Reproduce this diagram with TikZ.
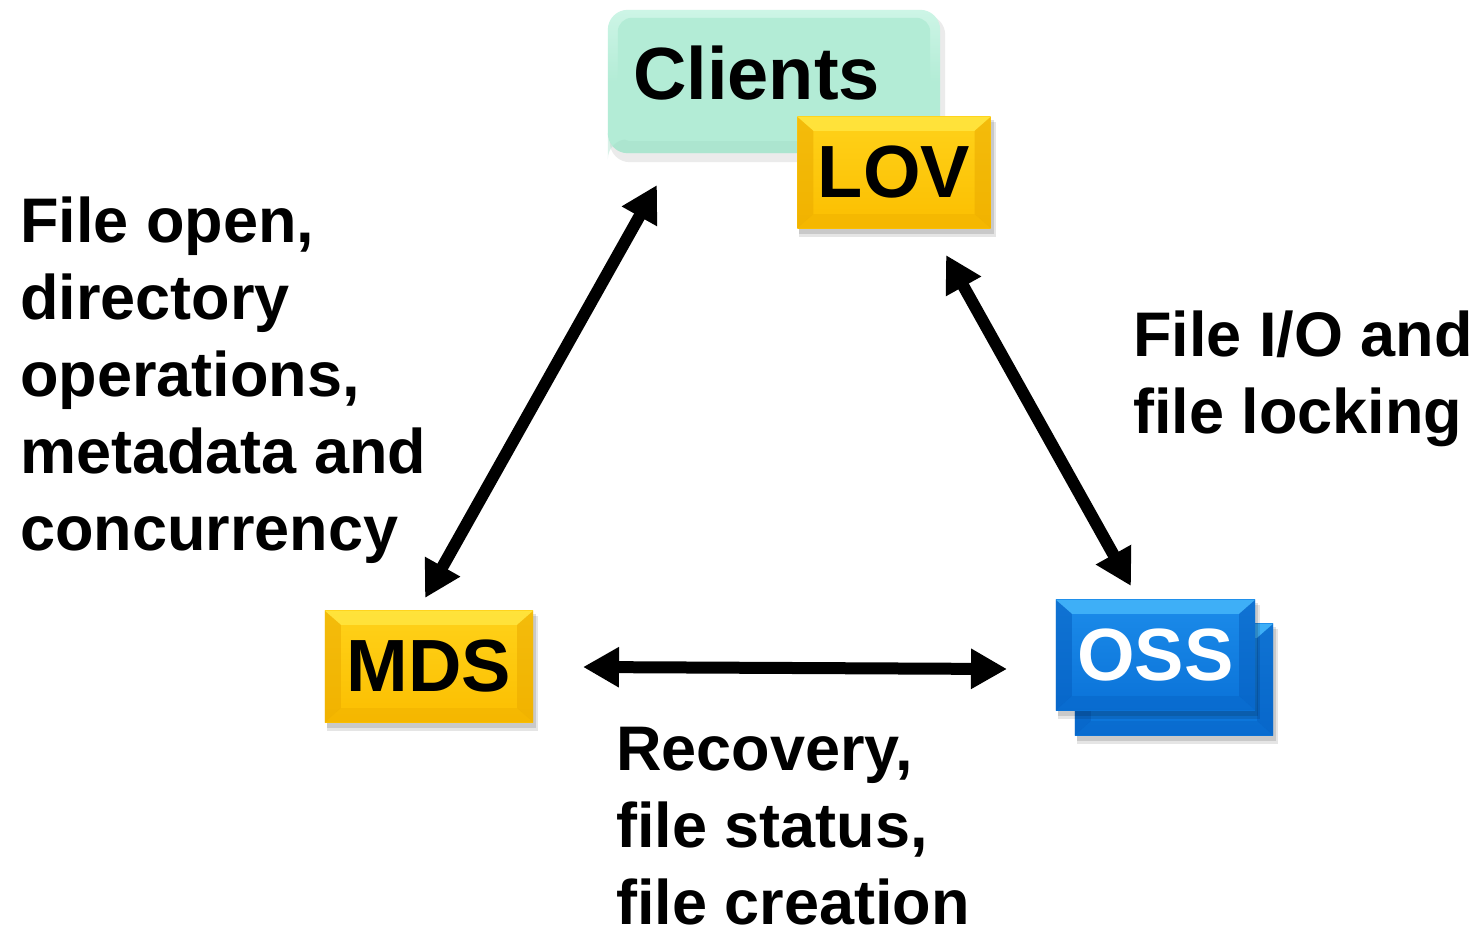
\documentclass[tikz,border=0pt]{standalone}
\usepackage{fontspec}
\setmainfont{Liberation Sans}
\usetikzlibrary{arrows.meta,calc,backgrounds}
\definecolor{gold}{HTML}{FBBE00}
\definecolor{goldlt}{HTML}{FFE640}
\definecolor{goldmd}{HTML}{FFD21A}
\definecolor{golddk}{HTML}{EAAA00}
\definecolor{blu}{HTML}{0A72D8}
\definecolor{blult}{HTML}{45B6FA}
\definecolor{blumd}{HTML}{1C8CEA}
\definecolor{bludk}{HTML}{065FC0}
\definecolor{mint}{HTML}{B3ECD6}
\definecolor{mintlt}{HTML}{CDF5E6}
\definecolor{mintdk}{HTML}{A2DCC6}
\newcommand\mybevel[5]{% name, face-top, face-bottom, light, dark
  \fill[black,opacity=0.10] ($(#1.north west)+(2,5)$) rectangle ($(#1.south east)+(5,9)$);
  \fill[black,opacity=0.12] ($(#1.north west)+(2,3)$) rectangle ($(#1.south east)+(3,6)$);
  \shade[top color=#2,bottom color=#3] (#1.north west) rectangle (#1.south east);
  \fill[#4,opacity=0.85] (#1.north west) -- (#1.north east) -- ($(#1.north east)+(-16,14)$) -- ($(#1.north west)+(16,14)$) -- cycle;
  \fill[#5,opacity=0.55] (#1.north west) -- ($(#1.north west)+(16,14)$) -- ($(#1.south west)+(16,-14)$) -- (#1.south west) -- cycle;
  \fill[#5,opacity=0.55] (#1.north east) -- ($(#1.north east)+(-16,14)$) -- ($(#1.south east)+(-16,-14)$) -- (#1.south east) -- cycle;
  \fill[#5,opacity=0.35] (#1.south west) -- ($(#1.south west)+(16,-14)$) -- ($(#1.south east)+(-16,-14)$) -- (#1.south east) -- cycle;
}
\begin{document}
\begin{tikzpicture}[x=1pt,y=-1pt,
  box/.style={minimum width=#1,inner sep=0pt,font=\fontsize{74}{74}\selectfont\bfseries},
  lbl/.style={anchor=base west,inner sep=0pt,align=left,font=\fontsize{63}{77}\selectfont\bfseries},
  link/.style={line width=12pt,{Triangle[length=36pt,width=38pt]}-{Triangle[length=36pt,width=38pt]}}]
\useasboundingbox (0,0) rectangle (1480,930);

% Clients box
\node[box=332pt,minimum height=143pt] (clients) at (774,81.5) {};
\node[anchor=base west,inner sep=0pt,font=\fontsize{74}{74}\selectfont\bfseries] (clientstext) at (633,99) {Clients};
% LOV
\node[box=193pt,minimum height=111pt] (lov) at (894,172.5) {LOV};
% MDS
\node[box=208pt,minimum height=111pt] (mds) at (429,666.5) {MDS};
% OSS
\node[box=198pt,minimum height=111pt] (ossback) at (1174,679.5) {};
\node[box=199pt,minimum height=110pt,text=white] (oss) at (1155.5,655) {OSS};

\begin{pgfonlayer}{background}
  \fill[white] (0,0) rectangle (1480,930);
  \fill[black,opacity=0.08,rounded corners=20pt] ($(clients.north west)+(2,5)$) rectangle ($(clients.south east)+(5,9)$);
  \shade[rounded corners=20pt,top color=mintlt,bottom color=mint,middle color=mint] (clients.north west) rectangle (clients.south east);
  \fill[mintdk,opacity=0.4,rounded corners=20pt] ($(clients.south west)+(0,-14)$) rectangle (clients.south east);
  \fill[mint,rounded corners=14pt] ($(clients.north west)+(10,8)$) rectangle ($(clients.south east)+(-10,-12)$);
  \mybevel{lov}{goldmd}{gold}{goldlt}{golddk}
  \mybevel{mds}{goldmd}{gold}{goldlt}{golddk}
  \mybevel{ossback}{blumd}{blu}{blult}{bludk}
  \mybevel{oss}{blumd}{blu}{blult}{bludk}
\end{pgfonlayer}

% connectors
\coordinate (a1s) at (425,598);
\coordinate (a1e) at (657,185);
\coordinate (a2s) at (946,255);
\coordinate (a2e) at (1131,586);
\coordinate (a3s) at (583,667);
\coordinate (a3e) at (1007,669);
\draw[link] (a1s) -- (a1e);
\draw[link] (a2s) -- (a2e);
\draw[link] (a3s) -- (a3e);

% labels
\node[lbl] (lblmeta) at (20,550) {File open,\\directory\\operations,\\metadata and\\concurrency};
\node[lbl] (lblio) at (1133,433) {File I/O and\\file locking};
\node[lbl] (lblrec) at (616,924) {Recovery,\\file status,\\file creation};
\end{tikzpicture}
\end{document}
